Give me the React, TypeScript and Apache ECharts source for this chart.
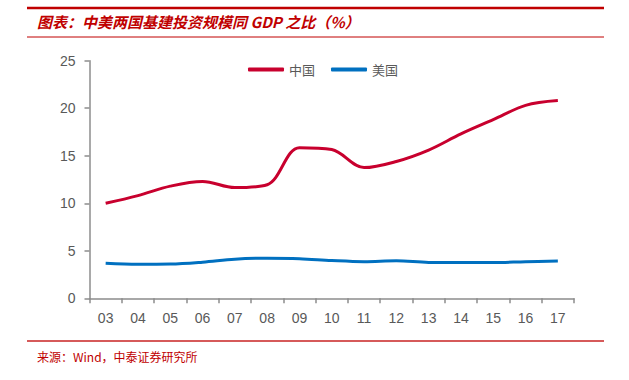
import React, { useEffect, useRef } from "react";
import * as echarts from "echarts";

const years = ["03", "04", "05", "06", "07", "08", "09", "10", "11", "12", "13", "14", "15", "16", "17"];
const chinaValues = [10.0, 10.8, 11.8, 12.3, 11.65, 11.95, 15.85, 15.65, 13.75, 14.4, 15.6, 17.3, 18.8, 20.3, 20.8];
const usValues = [3.68, 3.58, 3.6, 3.8, 4.12, 4.22, 4.17, 3.97, 3.85, 3.95, 3.77, 3.76, 3.76, 3.85, 3.92];
const seriesNames = ["中国", "美国"];
const titleText = "图表：中美两国基建投资规模同 GDP 之比（%）";
const sourceText = "来源：Wind，中泰证券研究所";

export default function App() {
  const ref = useRef<HTMLDivElement>(null);
  useEffect(() => {
    if (!ref.current) return;
    const chart = echarts.init(ref.current, undefined, { renderer: "svg" });
    const axisGray = "#8c8c8c";
    const labelGray = "#595959";
    chart.setOption({
      animation: false,
      backgroundColor: "#ffffff",
      grid: { left: 89.5, right: 55, top: 60.7, bottom: 81.7, containLabel: false },
      legend: {
        data: seriesNames,
        left: 243,
        top: 58,
        itemWidth: 36,
        itemHeight: 4,
        itemGap: 16,
        icon: "roundRect",
        textStyle: { color: labelGray, fontSize: 13, fontFamily: "Noto Sans CJK SC" },
      },
      xAxis: {
        type: "category",
        data: years,
        boundaryGap: true,
        axisLine: { lineStyle: { color: axisGray, width: 1.5 } },
        axisTick: { show: true, inside: false, length: 5, alignWithLabel: false, lineStyle: { color: axisGray, width: 1.5 } },
        axisLabel: { color: labelGray, fontSize: 14, fontFamily: "Liberation Sans", margin: 13 },
        splitLine: { show: false },
      },
      yAxis: {
        type: "value",
        min: 0,
        max: 25,
        interval: 5,
        axisLine: { show: true, lineStyle: { color: axisGray, width: 1.5 } },
        axisTick: { show: true, length: 5, lineStyle: { color: axisGray, width: 1.5 } },
        axisLabel: { color: labelGray, fontSize: 14, fontFamily: "Liberation Sans", margin: 14 },
        splitLine: { show: false },
      },
      series: [
        {
          name: seriesNames[0],
          type: "line",
          data: chinaValues,
          smooth: 0.35,
          showSymbol: false,
          symbol: "none",
          lineStyle: { color: "#c8002e", width: 3 },
          itemStyle: { color: "#c8002e" },
        },
        {
          name: seriesNames[1],
          type: "line",
          data: usValues,
          smooth: 0.35,
          showSymbol: false,
          symbol: "none",
          lineStyle: { color: "#0070c0", width: 3 },
          itemStyle: { color: "#0070c0" },
        },
      ],
      graphic: [
        { type: "line", shape: { x1: 27, y1: 8, x2: 604, y2: 8 }, style: { stroke: "#c00000", lineWidth: 2.5 } },
        {
          type: "text",
          x: 37,
          y: 21,
          style: {
            text: titleText,
            fill: "#c00000",
            fontSize: 15,
            fontWeight: "bold",
            fontStyle: "italic",
            fontFamily: "Noto Sans CJK SC",
            verticalAlign: "middle",
          },
        },
        { type: "line", shape: { x1: 27, y1: 37, x2: 604, y2: 37 }, style: { stroke: "#c00000", lineWidth: 1 } },
        { type: "line", shape: { x1: 27, y1: 341, x2: 604, y2: 341 }, style: { stroke: "#d65a5a", lineWidth: 2 } },
        {
          type: "text",
          x: 37,
          y: 356,
          style: {
            text: sourceText,
            fill: "#c00000",
            fontSize: 12,
            fontFamily: "Noto Sans CJK SC",
            verticalAlign: "middle",
          },
        },
      ],
    });
    return () => chart.dispose();
  }, []);
  return <div ref={ref} style={{ position: "fixed", left: 0, top: 0, width: 629, height: 380 }} />;
}
